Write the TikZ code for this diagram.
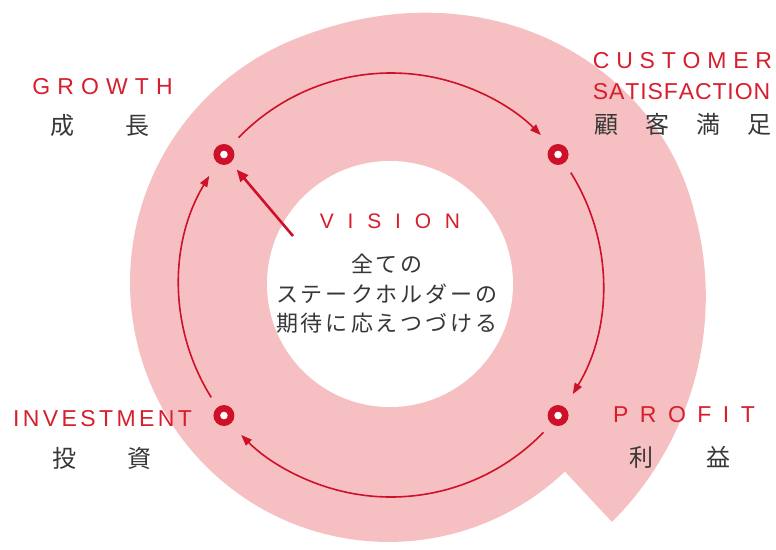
\documentclass[tikz,border=0pt]{standalone}
\usepackage{fontspec}
\setmainfont{Liberation Sans}
\newfontfamily\cjk{Noto Sans CJK JP}
\usetikzlibrary{calc,arrows.meta}
\definecolor{qpink}{RGB}{246,192,194}
\definecolor{qred}{RGB}{206,16,40}
\definecolor{qtext}{RGB}{214,30,45}
\definecolor{qgray}{RGB}{55,55,55}
\ExplSyntaxOn
\NewDocumentCommand\spreadtxt{mm}{\tl_map_inline:nn{#2}{##1\kern#1}\kern-#1}
\ExplSyntaxOff
\begin{document}
\begin{tikzpicture}[x=1pt,y=-1pt,
  declare function={rr(\s)=(\s<200)?(255+9*\s/200):((\s<300)?(264+48*((\s-200)/100)*((\s-200)/100)*(3-2*((\s-200)/100))):(312+12*(\s-300)/60));},
  marker/.style={circle,fill=qred,minimum size=21pt,inner sep=0pt,
    path picture={\fill[white] (path picture bounding box.center) circle[radius=3.8pt];}},
  ring/.style={draw=qred,line width=1.6pt,-{Triangle[length=11pt,width=8pt]}},
  visarrow/.style={draw=qred,line width=2.6pt,-{Triangle[length=12pt,width=10pt]},shorten >=9pt},
  en/.style={text=qtext,inner sep=0pt,anchor=base,font=\fontsize{23pt}{27pt}\selectfont},
  jp/.style={text=qgray,inner sep=0pt,anchor=base,font=\cjk\fontsize{24pt}{28pt}\selectfont},
  jpc/.style={text=qgray,inner sep=0pt,anchor=base,font=\cjk\fontsize{22pt}{26pt}\selectfont},
]
\useasboundingbox (0,0) rectangle (776,549);
% pink spiral band
\fill[qpink] plot[smooth,variable=\t,domain=47:407,samples=181]
  ({391+rr(\t-47)*cos(\t)},{285+rr(\t-47)*sin(\t)}) -- cycle;
% white core
\node[circle,fill=white,minimum size=246pt,inner sep=0pt] (core) at (390,284) {};
% ring centre
\coordinate (C) at (391,285);
% markers
\node[marker] (gr) at ($(C)+(218:212)$) {};
\node[marker] (cs) at ($(C)+(322:212)$) {};
\node[marker] (pr) at ($(C)+(38:212)$) {};
\node[marker] (iv) at ($(C)+(142:212)$) {};
% ring arrows
\draw[ring] ($(C)+(224:212)$) arc[start angle=224,end angle=315,radius=212];
\draw[ring] ($(C)+(328:212)$) arc[start angle=328,end angle=391,radius=212];
\draw[ring] ($(C)+(44:212)$) arc[start angle=44,end angle=135,radius=212];
\draw[ring] ($(C)+(148:212)$) arc[start angle=148,end angle=211,radius=212];
% vision arrow
\coordinate (vs) at (293,236);
\draw[visarrow] (vs) -- (gr);
% labels
\node[en] (tgr) at (102.5,94.5) {\spreadtxt{7.1pt}{GROWTH}};
\node[jp] (jgr) at (100,134) {\spreadtxt{52pt}{成長}};
\node[en] (tcs1) at (682.5,68) {\spreadtxt{6.8pt}{CUSTOMER}};
\node[en] (tcs2) at (681.5,99.5) {\spreadtxt{0.9pt}{SATISFACTION}};
\node[jp] (jcs) at (682.5,133) {\spreadtxt{27pt}{顧客満足}};
\node[en,font=\fontsize{21pt}{25pt}\selectfont] (tvi) at (390,228) {\spreadtxt{13.8pt}{VISION}};
\node[jpc] (v1) at (387,272.4) {\spreadtxt{3pt}{全ての}};
\node[jpc] (v2) at (387,302.4) {\spreadtxt{3pt}{ステークホルダーの}};
\node[jpc] (v3) at (387,331.9) {\spreadtxt{3pt}{期待に応えつづける}};
\node[en] (tiv) at (102.5,426.5) {\spreadtxt{3.4pt}{INVESTMENT}};
\node[jp] (jiv) at (101.5,467) {\spreadtxt{51pt}{投資}};
\node[en] (tpr) at (684,422.5) {\spreadtxt{11.5pt}{PROFIT}};
\node[jp] (jpr) at (680,466.5) {\spreadtxt{53.5pt}{利益}};
\end{tikzpicture}
\end{document}
